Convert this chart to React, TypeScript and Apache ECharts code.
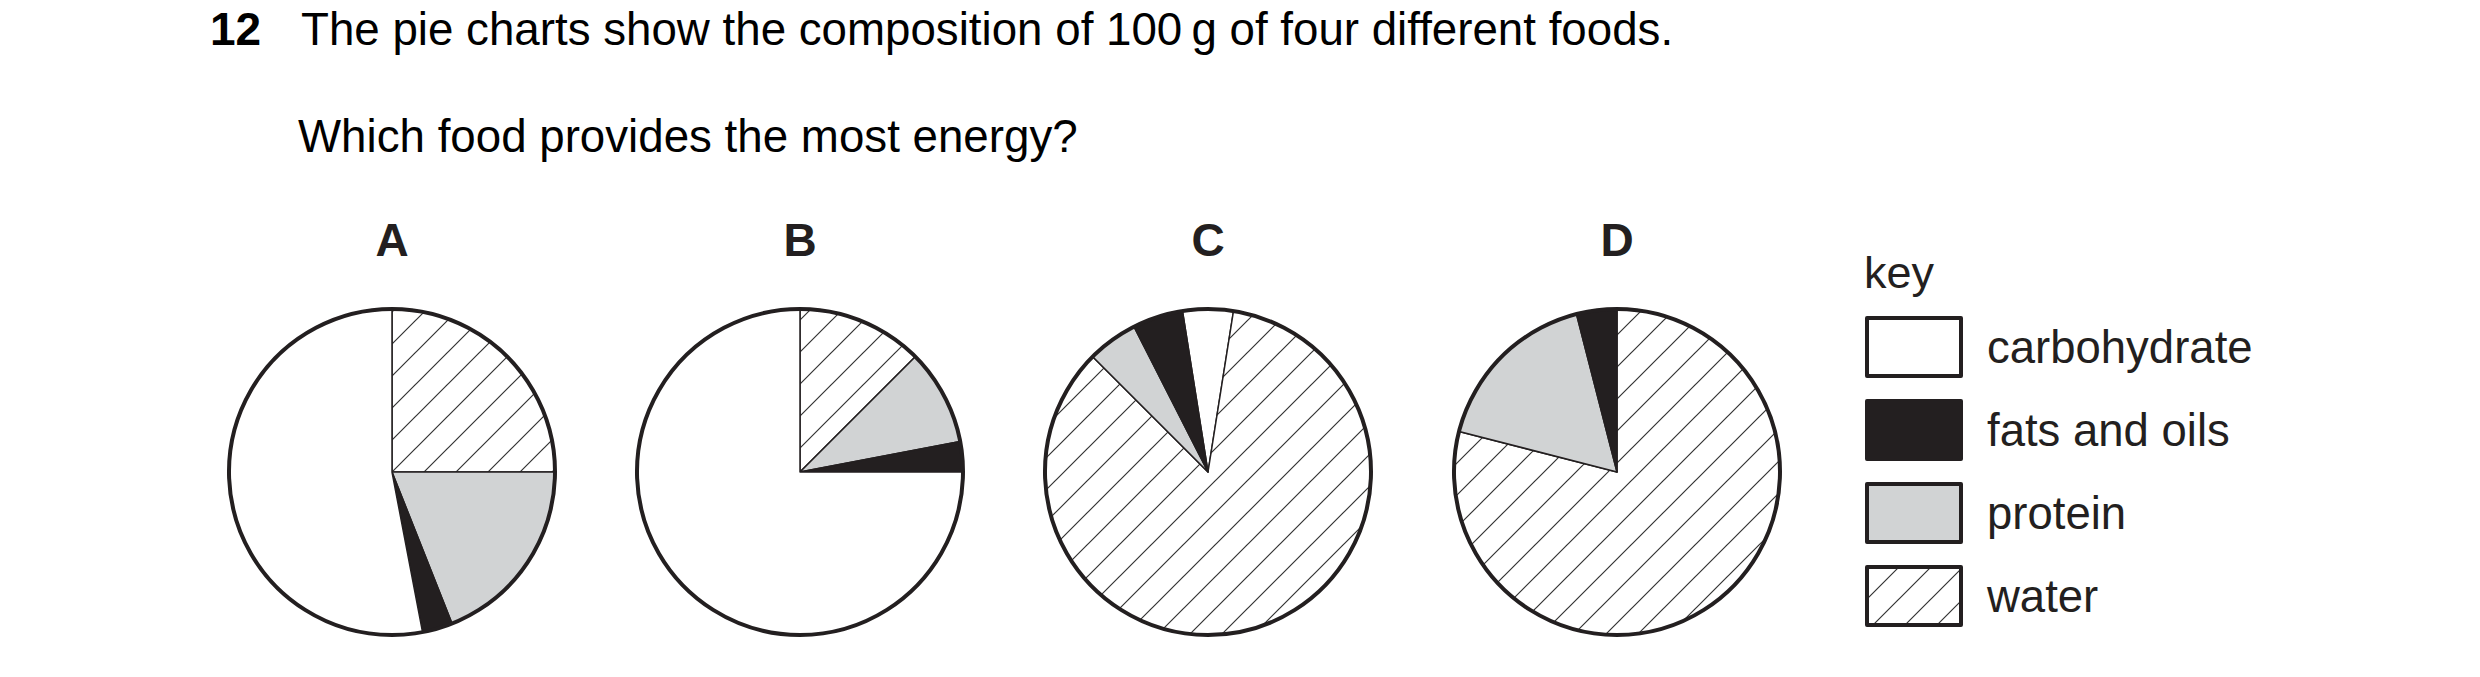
import React, { useEffect, useRef } from "react";
import * as echarts from "echarts";

const FONT = "'Liberation Sans', Arial, Helvetica, sans-serif";

// Food labels and pie centres
const foods = ["A", "B", "C", "D"];
const pieCentersX = [392, 800, 1208, 1617];

// Legend categories
const keyNames = ["carbohydrate", "fats and oils", "protein", "water"];

// Slice order (clockwise) and values (g per 100 g) per food
const namesA = ["water", "protein", "fats and oils", "carbohydrate"];
const valuesA = [25, 19, 3, 53];
const namesB = ["water", "protein", "fats and oils", "carbohydrate"];
const valuesB = [12.5, 9.5, 3, 75];
const namesC = ["carbohydrate", "water", "protein", "fats and oils"];
const valuesC = [5, 85, 5, 5];
const namesD = ["water", "protein", "fats and oils"];
const valuesD = [79, 17, 4];
const startAngles = [90, 90, 99, 90];

const questionNumber = "12";
const questionLine1 = "The pie charts show the composition of 100\u2009g of four different foods.";
const questionLine2 = "Which food provides the most energy?";

const hatchSvg =
  "<svg xmlns='http://www.w3.org/2000/svg' width='32' height='32'>" +
  "<rect width='32' height='32' fill='white'/>" +
  "<path d='M-2,34 L34,-2 M-2,2 L2,-2 M30,34 L34,30' stroke='#333' stroke-width='1.2' fill='none'/>" +
  "</svg>";
const hatch: any = {
  image: "data:image/svg+xml;charset=utf-8," + encodeURIComponent(hatchSvg),
  repeat: "repeat",
  imageWidth: 32,
  imageHeight: 32,
};

const fills: Record<string, any> = {
  carbohydrate: "#ffffff",
  "fats and oils": "#231f20",
  protein: "#d1d3d4",
  water: hatch,
};

export default function App() {
  const ref = useRef<HTMLDivElement>(null);
  useEffect(() => {
    document.body.style.margin = "0";
    if (!ref.current) return;
    const chart = echarts.init(ref.current, null, { renderer: "svg" });
    const allNames = [namesA, namesB, namesC, namesD];
    const allValues = [valuesA, valuesB, valuesC, valuesD];
    const R = 163;
    const series: any[] = [];
    foods.forEach((f, i) => {
      series.push({
        type: "pie",
        name: f,
        center: [pieCentersX[i], 472],
        radius: R,
        startAngle: startAngles[i],
        clockwise: true,
        silent: true,
        avoidLabelOverlap: false,
        label: { show: false },
        labelLine: { show: false },
        emphasis: { disabled: true },
        itemStyle: { borderColor: "#231f20", borderWidth: 1.5 },
        data: allNames[i].map((n, j) => ({
          name: n,
          value: allValues[i][j],
          itemStyle: { color: fills[n] },
        })),
      });
      series.push({
        type: "pie",
        name: f + "-outline",
        center: [pieCentersX[i], 472],
        radius: R,
        silent: true,
        label: { show: false },
        labelLine: { show: false },
        emphasis: { disabled: true },
        data: [
          {
            name: "outline",
            value: 1,
            itemStyle: { color: "rgba(0,0,0,0)", borderColor: "#231f20", borderWidth: 4 },
          },
        ],
      });
    });

    const graphic: any[] = [
      {
        type: "text",
        x: 210,
        y: 29,
        style: { text: questionNumber, fontSize: 46, fontWeight: "bold", fontFamily: FONT, fill: "#000", verticalAlign: "middle" },
      },
      {
        type: "text",
        x: 301,
        y: 29,
        style: { text: questionLine1, fontSize: 45.7, fontFamily: FONT, fill: "#000", verticalAlign: "middle" },
      },
      {
        type: "text",
        x: 298,
        y: 136,
        style: { text: questionLine2, fontSize: 45.7, fontFamily: FONT, fill: "#000", verticalAlign: "middle" },
      },
      {
        type: "text",
        x: 1864,
        y: 272,
        style: { text: "key", fontSize: 45, fontFamily: FONT, fill: "#231f20", verticalAlign: "middle" },
      },
      ...foods.map((f, i) => ({
        type: "text",
        x: pieCentersX[i],
        y: 240,
        style: { text: f, fontSize: 46, fontWeight: "bold", fontFamily: FONT, fill: "#231f20", align: "center", verticalAlign: "middle" },
      })),
    ];

    chart.setOption({
      animation: false,
      backgroundColor: "#ffffff",
      legend: {
        data: keyNames,
        orient: "vertical",
        left: 1865,
        top: 316,
        padding: 0,
        itemWidth: 94,
        itemHeight: 58,
        itemGap: 21,
        icon: "rect",
        selectedMode: false,
        itemStyle: { borderColor: "#231f20", borderWidth: 4 },
        textStyle: { fontSize: 45.5, fontFamily: FONT, color: "#231f20", padding: [0, 0, 0, 21] },
      },
      graphic,
      series,
    });
    return () => chart.dispose();
  }, []);
  return <div ref={ref} style={{ width: 2480, height: 677 }} />;
}
